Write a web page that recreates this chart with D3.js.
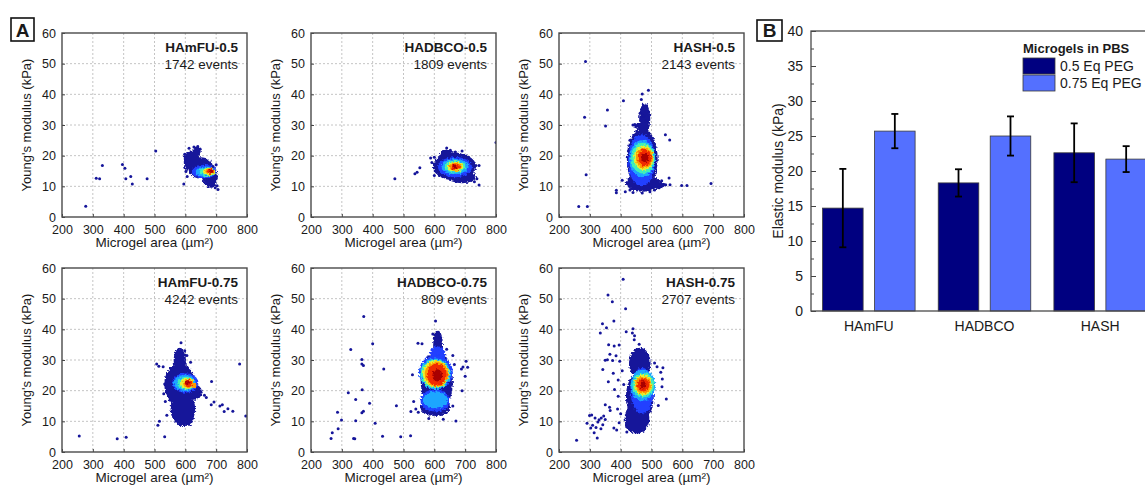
<!DOCTYPE html>
<html>
<head>
<meta charset="utf-8">
<script src="https://cdn.jsdelivr.net/npm/d3@7"></script>
<style>
    body { margin: 0; background: #fff; }
    svg text { font-family: Arial, "Liberation Sans", sans-serif; fill: #1a1a1a; }
</style>
</head>
<body>
<svg id="chart" width="1145" height="486"></svg>
<script>
'use strict';

// ---- panel A : single microgel scatter plots ----
const areaTicks = [200, 300, 400, 500, 600, 700, 800];
const youngTicks = [0, 10, 20, 30, 40, 50, 60];
const panelNames = ["HAmFU-0.5", "HADBCO-0.5", "HASH-0.5", "HAmFU-0.75", "HADBCO-0.75", "HASH-0.75"];
const panelEvents = [1742, 1809, 2143, 4242, 809, 2707];

// density layers: [level, area, modulus, area spread, modulus spread]
const cloudHAmFU05 = [
    [0, 620, 19, 25, 2.8], [0, 650, 16, 40, 3.5], [0, 680, 13, 25, 3.5], [0, 605, 18, 10, 3], [0, 638, 21.5, 12, 1.5],
    [1, 660, 14.8, 40, 2.2], [2, 665, 14.8, 32, 1.7], [3, 672, 14.8, 25, 1.4], [4, 677, 14.8, 20, 1.2],
    [5, 680, 14.9, 15, 1.0], [6, 682, 14.9, 11, 0.8], [7, 684, 14.9, 6, 0.5]
];
const cloudHADBCO05 = [
    [0, 665, 16.5, 70, 4.5], [0, 690, 13, 45, 2], [0, 640, 19.5, 25, 2.5],
    [1, 667, 16.3, 55, 3.3], [2, 667, 16.4, 44, 2.5], [3, 667, 16.4, 34, 2], [4, 667, 16.4, 27, 1.6],
    [5, 668, 16.4, 21, 1.3], [6, 668, 16.4, 15, 1.0], [7, 666, 16.4, 7, 0.6]
];
const cloudHASH05 = [
    [0, 478, 32, 18, 5], [0, 466, 29.7, 22, 1.2], [0, 470, 19, 50, 10], [0, 472, 11, 55, 2.8], [0, 500, 10.5, 45, 1.5],
    [1, 468, 18.5, 44, 8.5], [2, 470, 19, 42, 6], [3, 472, 19.2, 38, 5], [4, 475, 19.3, 33, 4],
    [5, 477, 19.3, 28, 3.4], [6, 478, 19.4, 22, 2.8], [7, 478, 19.4, 12, 1.5]
];
const cloudHAmFU075 = [
    [0, 582, 30, 20, 4], [0, 582, 22, 50, 7], [0, 592, 14, 40, 5.5], [0, 605, 11, 22, 2.5], [0, 630, 19.5, 24, 2.5],
    [1, 600, 22.5, 42, 3.2], [2, 598, 22.5, 36, 2.6], [3, 602, 22.4, 28, 2.1], [4, 607, 22.4, 22, 1.8],
    [5, 610, 22.3, 17, 1.5], [5, 628, 21.8, 8, 0.9], [6, 610, 22.4, 12, 1.2], [7, 608, 22.5, 6, 0.8]
];
const cloudHADBCO075 = [
    [0, 612, 35, 16, 4.5], [0, 608, 23, 52, 10], [0, 603, 14.5, 48, 2.8],
    [1, 610, 32, 25, 2.5], [1, 605, 26, 55, 5.5], [1, 603, 16.8, 48, 3.6], [2, 603, 17, 40, 2.8],
    [2, 603, 25.5, 50, 5], [3, 603, 25.5, 46, 4.7], [4, 605, 25.5, 42, 4.4], [5, 607, 25.4, 38, 4.1],
    [6, 608, 25.2, 32, 3.6], [7, 610, 25, 16, 2]
];
const cloudHASH075 = [
    [0, 462, 29, 35, 5], [0, 462, 18, 45, 8], [0, 453, 11, 40, 5], [0, 442, 9, 28, 2.5],
    [1, 470, 20, 38, 7.5], [2, 472, 21.8, 40, 5], [3, 473, 21.8, 35, 4], [4, 473, 21.9, 30, 3.4],
    [5, 473, 21.9, 26, 2.8], [6, 473, 21.9, 20, 2.2], [7, 473, 21.9, 10, 1.2]
];

// single events outside the dense cores: [area, modulus]
const dotsHAmFU05 = [
    [277, 3.5], [311, 12.6], [322, 12.5], [331, 16.8], [396, 17.1], [404, 15.9], [407, 12.5], [423, 13.2],
    [428, 10.8], [476, 12.5], [504, 21.5], [595, 10.8], [598, 20.5], [600, 19.2], [612, 22.4], [628, 22.8],
    [640, 23.0], [648, 22.2], [700, 17.0], [697, 9.5], [703, 10.2], [706, 9.0], [686, 10.0], [602, 14.8],
    [606, 13.2], [690, 16.5]
];
const dotsHADBCO05 = [
    [472, 12.5], [537, 14.1], [544, 14.6], [553, 16.1], [800, 24.3], [745, 10.4], [588, 19.2], [592, 17.8],
    [600, 19.5], [640, 22.5], [652, 21.8], [668, 21.2], [690, 21.5], [735, 16.8], [745, 16.8], [738, 12.5],
    [730, 11.5], [600, 13.5], [605, 15.0]
];
const dotsHASH05 = [
    [286, 50.7], [283, 32.5], [351, 29.7], [357, 34.9], [409, 37.9], [288, 13.8], [264, 3.4], [292, 3.4],
    [470, 40.1], [490, 41.3], [467, 38.3], [471, 35.5], [545, 26.8], [559, 25.1], [598, 10.3], [615, 10.3],
    [693, 10.9], [386, 8.7], [386, 7.9], [405, 12.0], [415, 8.2], [546, 10.5], [533, 11.8], [560, 10.5],
    [557, 12.7], [440, 30.0], [446, 30.2], [452, 29.8], [463, 33.8], [475, 33.0], [482, 31.2], [430, 8.8],
    [440, 8.0], [470, 7.8], [495, 8.2], [510, 8.8], [525, 9.5], [425, 21.5], [430, 25.0]
];
const dotsHAmFU075 = [
    [256, 5.2], [379, 4.3], [408, 4.8], [533, 5.0], [511, 8.7], [516, 10.0], [507, 28.7], [514, 28.0],
    [528, 27.8], [586, 35.6], [617, 29.3], [685, 23.0], [776, 28.7], [796, 11.7], [651, 19.5], [662, 18.5],
    [668, 17.8], [684, 15.4], [693, 16.3], [712, 15.0], [720, 15.4], [738, 14.1], [754, 13.3], [726, 13.2],
    [533, 22.2], [530, 19.0], [535, 16.5], [540, 12.0], [598, 33.0], [605, 31.5]
];
const dotsHADBCO075 = [
    [371, 44.2], [329, 33.4], [400, 35.3], [365, 30.2], [365, 28.7], [370, 28.2], [436, 27.1], [366, 20.3],
    [321, 19.3], [345, 17.1], [390, 15.9], [370, 13.3], [365, 12.8], [286, 13.0], [299, 10.4], [345, 10.2],
    [408, 9.4], [288, 7.6], [269, 6.3], [265, 4.4], [338, 4.4], [342, 4.3], [432, 5.1], [491, 5.0],
    [523, 5.3], [477, 15.1], [524, 13.2], [582, 10.9], [629, 10.7], [670, 10.1], [690, 20.0], [693, 27.7],
    [688, 27.1], [703, 29.6], [708, 27.6], [700, 24.7], [604, 42.7], [547, 35.5], [560, 35.3], [533, 16.5],
    [529, 25.2], [595, 38.5], [610, 38.8], [618, 37.5], [600, 37.0], [640, 33.5], [660, 31.5], [665, 28.5],
    [540, 14.0], [548, 13.0], [660, 15.0]
];
const dotsHASH075 = [
    [408, 56.3], [359, 51.2], [373, 49.0], [416, 46.7], [378, 42.7], [341, 41.8], [354, 40.5], [334, 38.8],
    [418, 39.2], [440, 40.2], [438, 38.8], [445, 37.9], [444, 36.6], [361, 35.0], [379, 34.6], [395, 34.9],
    [350, 29.9], [357, 30.1], [365, 31.9], [374, 29.8], [385, 31.4], [397, 29.6], [342, 26.9], [376, 25.7],
    [360, 22.9], [392, 23.5], [380, 20.4], [392, 18.2], [350, 15.4], [364, 14.6], [366, 13.5], [299, 11.9],
    [306, 12.1], [291, 9.4], [303, 7.8], [314, 6.3], [324, 4.6], [317, 11.1], [326, 9.8], [337, 11.1],
    [345, 11.7], [350, 10.6], [342, 8.9], [336, 7.6], [309, 8.7], [257, 3.8], [378, 7.8], [387, 7.2],
    [510, 29.0], [518, 27.8], [537, 27.5], [530, 26.0], [535, 23.8], [534, 21.3], [548, 17.3], [522, 15.2],
    [460, 35.1], [405, 26.5], [410, 22.0], [400, 12.5], [395, 9.5], [390, 14.0], [420, 6.5], [330, 10.5],
    [320, 8.0]
];

const clouds = [cloudHAmFU05, cloudHADBCO05, cloudHASH05, cloudHAmFU075, cloudHADBCO075, cloudHASH075];
const dots = [dotsHAmFU05, dotsHADBCO05, dotsHASH05, dotsHAmFU075, dotsHADBCO075, dotsHASH075];

// jet-like density colours, low to high
const levelColors = ["#15159a", "#2040ff", "#1aa6ff", "#40f0b8", "#e8f030", "#ff9a00", "#f02a00", "#a80000"];

// ---- panel B : bar chart ----
const categories = ["HAmFU", "HADBCO", "HASH"];
const seriesNames = ["0.5 Eq PEG", "0.75 Eq PEG"];
const modulus05 = [14.7, 18.3, 22.6];
const modulus075 = [25.7, 25.0, 21.7];
const error05 = [5.6, 1.95, 4.2];
const error075 = [2.45, 2.8, 1.85];
const elasticTicks = [0, 5, 10, 15, 20, 25, 30, 35, 40];
const barColors = ["#000080", "#5470ff"];

const svg = d3.select("#chart");
const panelW = 185, panelH = 184;
const panelLeft = [62, 311, 559];
const panelTop = [33, 268];

// rough, slightly blurred edges so the density clouds look like packed events
const filter = svg.append("defs").append("filter").attr("id", "soft")
    .attr("x", "-10%").attr("y", "-10%").attr("width", "120%").attr("height", "120%");
filter.append("feTurbulence").attr("type", "fractalNoise").attr("baseFrequency", 0.55)
    .attr("numOctaves", 1).attr("seed", 3).attr("result", "noise");
filter.append("feDisplacementMap").attr("in", "SourceGraphic").attr("in2", "noise")
    .attr("scale", 5).attr("xChannelSelector", "R").attr("yChannelSelector", "G").attr("result", "rough");
filter.append("feGaussianBlur").attr("in", "rough").attr("stdDeviation", 0.5);

const styleAxis = (g, size) => {
    g.select(".domain").remove();
    g.attr("font-family", null).attr("font-size", size + "px");
    g.selectAll(".tick line").attr("stroke", "#444");
    g.selectAll(".tick text").attr("fill", "#1a1a1a");
}

// Draws one scatter panel of part A
const drawScatter = (i) => {
    const left = panelLeft[i % 3], top = panelTop[Math.floor(i / 3)];
    const x = d3.scaleLinear().domain([200, 800]).range([left, left + panelW]);
    const y = d3.scaleLinear().domain([0, 60]).range([top + panelH, top]);
    const g = svg.append("g");

    g.append("clipPath").attr("id", "clip" + i)
        .append("rect").attr("x", left).attr("y", top).attr("width", panelW).attr("height", panelH);

    g.selectAll(".vgrid").data(areaTicks.slice(1, -1)).enter().append("line")
        .attr("x1", d => x(d)).attr("x2", d => x(d))
        .attr("y1", top).attr("y2", top + panelH)
        .attr("stroke", "#c4c4c4").attr("stroke-dasharray", "2,2");
    g.selectAll(".hgrid").data(youngTicks.slice(1, -1)).enter().append("line")
        .attr("y1", d => y(d)).attr("y2", d => y(d))
        .attr("x1", left).attr("x2", left + panelW)
        .attr("stroke", "#c4c4c4").attr("stroke-dasharray", "2,2");

    const layers = clouds[i].slice().sort((a, b) => a[0] - b[0]);
    g.append("g").attr("clip-path", "url(#clip" + i + ")")
        .append("g").attr("filter", "url(#soft)")
        .selectAll("ellipse").data(layers).enter().append("ellipse")
        .attr("cx", d => x(d[1]))
        .attr("cy", d => y(d[2]))
        .attr("rx", d => x(d[1] + d[3]) - x(d[1]))
        .attr("ry", d => y(d[2] - d[4]) - y(d[2]))
        .attr("fill", d => levelColors[d[0]]);

    g.append("g").attr("clip-path", "url(#clip" + i + ")")
        .selectAll("circle").data(dots[i]).enter().append("circle")
        .attr("cx", d => x(d[0]))
        .attr("cy", d => y(d[1]))
        .attr("r", 1.5)
        .attr("fill", levelColors[0]);

    g.append("g").attr("transform", "translate(0," + (top + panelH) + ")")
        .call(d3.axisBottom(x).tickValues(areaTicks).tickSizeInner(-3).tickSizeOuter(0).tickPadding(8))
        .call(a => styleAxis(a, 12.5));
    g.append("g").attr("transform", "translate(" + left + ",0)")
        .call(d3.axisLeft(y).tickValues(youngTicks).tickSizeInner(-3).tickSizeOuter(0).tickPadding(6))
        .call(a => styleAxis(a, 12.5));

    g.append("rect").attr("x", left).attr("y", top).attr("width", panelW).attr("height", panelH)
        .attr("fill", "none").attr("stroke", "#4a4a4a").attr("stroke-width", 1.4);

    g.append("text").attr("x", left + panelW - 9).attr("y", top + 19)
        .attr("text-anchor", "end").attr("font-weight", "bold").attr("font-size", "13.5px")
        .text(panelNames[i]);
    g.append("text").attr("x", left + panelW - 9).attr("y", top + 36)
        .attr("text-anchor", "end").attr("font-size", "13.5px")
        .text(panelEvents[i] + " events");

    g.append("text")
        .attr("transform", "translate(" + (left - 31) + "," + (top + panelH / 2) + ") rotate(-90)")
        .attr("text-anchor", "middle").attr("font-size", "13px")
        .text("Young's modulus (kPa)");
    g.append("text").attr("x", left + panelW / 2).attr("y", top + panelH + 30)
        .attr("text-anchor", "middle").attr("font-size", "13.5px")
        .text("Microgel area (µm²)");
}

// Draws the bar chart of part B
const drawBars = () => {
    const x = d3.scaleBand().domain(categories).range([811, 1158]).paddingInner(0.2).paddingOuter(0.1);
    const xs = d3.scaleBand().domain([0, 1]).range([0, x.bandwidth()]).paddingInner(0.22);
    const y = d3.scaleLinear().domain([0, 40]).range([311, 31]);
    const g = svg.append("g");
    const series = [modulus05, modulus075];
    const errors = [error05, error075];

    const rows = [];
    categories.forEach((c, ci) => {
        series.forEach((s, si) => rows.push({ cat: c, s: si, v: s[ci], e: errors[si][ci] }));
    });

    g.selectAll(".bar").data(rows).enter().append("rect")
        .attr("x", d => x(d.cat) + xs(d.s))
        .attr("width", xs.bandwidth())
        .attr("y", d => y(d.v))
        .attr("height", d => y(0) - y(d.v))
        .attr("fill", d => barColors[d.s])
        .attr("stroke", "#3a3a3a").attr("stroke-width", 0.8);

    const err = g.selectAll(".err").data(rows).enter().append("g")
        .attr("transform", d => "translate(" + (x(d.cat) + xs(d.s) + xs.bandwidth() / 2) + ",0)");
    err.append("line").attr("y1", d => y(d.v + d.e)).attr("y2", d => y(d.v - d.e))
        .attr("stroke", "#000").attr("stroke-width", 1.8);
    err.append("line").attr("x1", -3.5).attr("x2", 3.5).attr("y1", d => y(d.v + d.e)).attr("y2", d => y(d.v + d.e))
        .attr("stroke", "#000").attr("stroke-width", 1.8);
    err.append("line").attr("x1", -3.5).attr("x2", 3.5).attr("y1", d => y(d.v - d.e)).attr("y2", d => y(d.v - d.e))
        .attr("stroke", "#000").attr("stroke-width", 1.8);

    g.append("g").attr("transform", "translate(811,0)")
        .call(d3.axisLeft(y).tickValues(elasticTicks).tickSizeInner(-5).tickSizeOuter(0).tickPadding(8))
        .call(a => styleAxis(a, 14));
    g.append("g").attr("transform", "translate(811,0)")
        .call(d3.axisLeft(y).tickValues(elasticTicks.slice(0, -1).map(d => d + 2.5)).tickSizeInner(-3).tickSizeOuter(0).tickFormat(""))
        .call(a => styleAxis(a, 14));
    g.append("g").attr("transform", "translate(0,311)")
        .call(d3.axisBottom(x).tickSize(0).tickPadding(10))
        .call(a => styleAxis(a, 14));

    g.append("rect").attr("x", 811).attr("y", 31).attr("width", 347).attr("height", 280)
        .attr("fill", "none").attr("stroke", "#4a4a4a").attr("stroke-width", 1.3);

    g.append("text")
        .attr("transform", "translate(783,171) rotate(-90)")
        .attr("text-anchor", "middle").attr("font-size", "14px")
        .text("Elastic modulus (kPa)");

    g.append("text").attr("x", 1023).attr("y", 53)
        .attr("font-weight", "bold").attr("font-size", "13px").text("Microgels in PBS");
    const leg = g.selectAll(".leg").data(seriesNames).enter().append("g")
        .attr("transform", (d, i) => "translate(1023," + (58 + i * 17) + ")");
    leg.append("rect").attr("width", 32).attr("height", 16)
        .attr("fill", (d, i) => barColors[i]).attr("stroke", "#3a3a3a").attr("stroke-width", 0.8);
    leg.append("text").attr("x", 37).attr("y", 13).attr("font-size", "14px").text(d => d);
}

// Panel letters
const drawLetter = (letter, bx, by, w, h) => {
    svg.append("rect").attr("x", bx).attr("y", by).attr("width", w).attr("height", h)
        .attr("fill", "#fff").attr("stroke", "#111").attr("stroke-width", 1.6);
    svg.append("text").attr("x", bx + w / 2).attr("y", by + h - 4)
        .attr("text-anchor", "middle").attr("font-weight", "bold").attr("font-size", "19px")
        .text(letter);
}

d3.range(6).forEach(drawScatter);
drawBars();
drawLetter("A", 11, 18, 23, 23);
drawLetter("B", 757, 20, 25, 21);
</script>
</body>
</html>
